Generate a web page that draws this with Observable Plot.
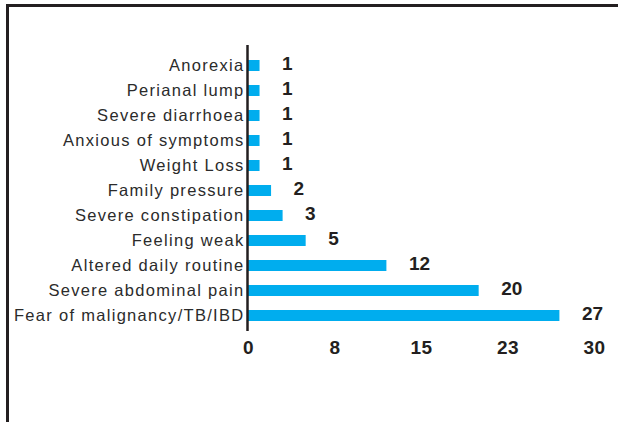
<!DOCTYPE html>
<html>
<head>
<meta charset="utf-8">
<script src="https://cdn.jsdelivr.net/npm/d3@7"></script>
<script src="https://cdn.jsdelivr.net/npm/@observablehq/plot@0.6"></script>
<style>
  html, body { margin: 0; padding: 0; background: #fff; }
  #wrap { position: relative; width: 618px; height: 422px; overflow: hidden; }
  #frame { position: absolute; left: 6px; top: 4px; width: 620px; height: 430px;
           border-top: 3px solid #231f20; border-left: 3px solid #231f20; box-sizing: border-box; }
  #chart { position: absolute; left: 0; top: 0; }
  #chart g[aria-label="y-axis tick label"] text { letter-spacing: 1.3px; }
  #chart g[aria-label="x-axis tick label"] text { letter-spacing: 0.5px; }
</style>
</head>
<body>
<div id="wrap"><div id="chart"></div><div id="frame"></div></div>
<script>
const categories = [
  "Anorexia",
  "Perianal lump",
  "Severe diarrhoea",
  "Anxious of symptoms",
  "Weight Loss",
  "Family pressure",
  "Severe constipation",
  "Feeling weak",
  "Altered daily routine",
  "Severe abdominal pain",
  "Fear of malignancy/TB/IBD"
];
const values = [1, 1, 1, 1, 1, 2, 3, 5, 12, 20, 27];
const xTicks = [0, 7.5, 15, 22.5, 30];

const data = categories.map((c, i) => ({category: c, value: values[i]}));
const ink = "#231f20";

const chart = Plot.plot({
  width: 618,
  height: 422,
  marginLeft: 248,
  marginRight: 24,
  marginTop: 45,
  marginBottom: 91,
  style: {fontFamily: "'Liberation Sans', Arial, sans-serif", background: "transparent", color: ink},
  x: {domain: [0, 30], ticks: xTicks, tickFormat: d => String(Math.round(d))},
  y: {domain: categories, paddingInner: 0.57, paddingOuter: 0.393, align: 0.6},
  marks: [
    Plot.barX(data, {x: "value", y: "category", fill: "#00adee"}),
    Plot.ruleX([0], {stroke: ink, strokeWidth: 2.5, dx: -1}),
    Plot.text(data, {x: "value", y: "category", text: d => String(d.value), textAnchor: "start",
      dx: 22, dy: -2, fontSize: 19, fontWeight: "bold", fill: ink}),
    Plot.axisY({tickSize: 0, tickPadding: 4, fontSize: 16.5, fill: "#2b2b2b", label: null}),
    Plot.axisX({ticks: xTicks, tickFormat: d => String(Math.round(d)), tickSize: 0, tickPadding: 9,
      fontSize: 19, fontWeight: "bold", fill: ink, label: null})
  ]
});
document.getElementById("chart").appendChild(chart);
</script>
</body>
</html>
